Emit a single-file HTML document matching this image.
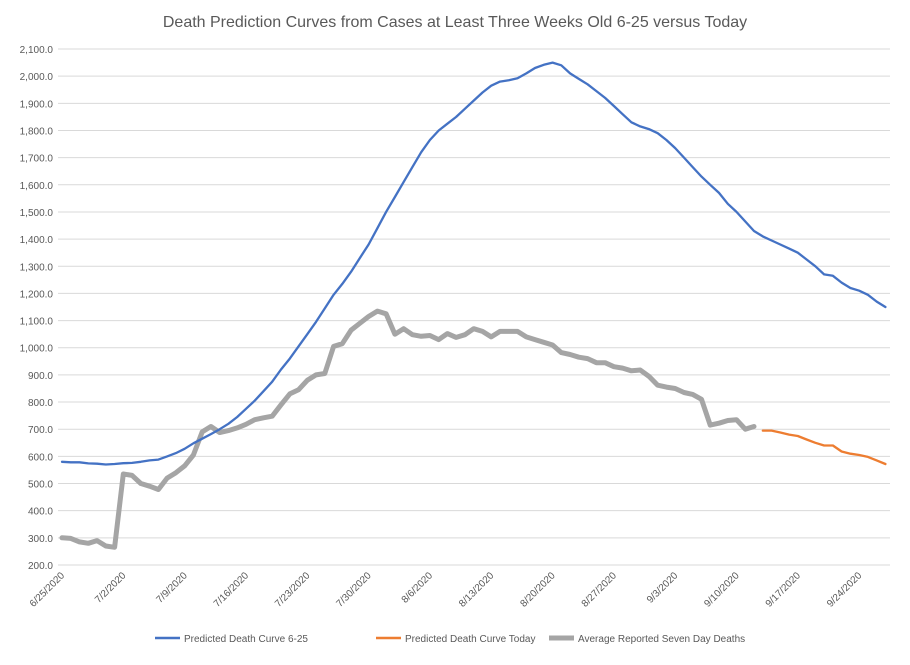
<!DOCTYPE html>
<html><head><meta charset="utf-8"><style>
body{margin:0;background:#fff;font-family:"Liberation Sans",sans-serif}
svg text{font-family:"Liberation Sans",sans-serif;fill:#595959}
</style></head><body>
<svg id="chart" width="910" height="660">
<text x="455" y="27" text-anchor="middle" font-size="16">Death Prediction Curves from Cases at Least Three Weeks Old 6-25 versus Today</text>
<g id="grid"></g>
<g id="yaxis"></g>
<g id="xaxis"></g>
<g id="series"></g>
<g font-size="10">
<g><line x1="155" y1="638" x2="180" y2="638" stroke="#4472C4" stroke-width="2.5"/><text x="184" y="642" font-size="10">Predicted Death Curve 6-25</text></g>
<g><line x1="376" y1="638" x2="401" y2="638" stroke="#ED7D31" stroke-width="2.5"/><text x="405" y="642" font-size="10">Predicted Death Curve Today</text></g>
<g><line x1="549" y1="638" x2="574" y2="638" stroke="#A5A5A5" stroke-width="5"/><text x="578" y="642" font-size="10">Average Reported Seven Day Deaths</text></g>
</g>
</svg>
<script>
const yTicks=[200,300,400,500,600,700,800,900,1000,1100,1200,1300,1400,1500,1600,1700,1800,1900,2000,2100];
const xLabels=["6/25/2020","7/2/2020","7/9/2020","7/16/2020","7/23/2020","7/30/2020","8/6/2020","8/13/2020","8/20/2020","8/27/2020","9/3/2020","9/10/2020","9/17/2020","9/24/2020"];
const blue=[580,578,578,574,573,570,572,575,576,580,585,588,600,612,628,648,665,682,700,720,745,775,805,840,875,920,960,1005,1050,1095,1145,1195,1235,1280,1330,1380,1440,1500,1555,1610,1665,1720,1765,1800,1825,1850,1880,1910,1940,1965,1980,1985,1992,2010,2030,2042,2050,2040,2010,1990,1970,1945,1920,1890,1860,1830,1815,1805,1790,1765,1735,1700,1665,1630,1600,1570,1530,1500,1465,1430,1410,1395,1380,1365,1350,1325,1300,1270,1265,1240,1220,1210,1195,1170,1150];
const gray=[300,298,285,280,290,270,265,535,530,500,490,478,520,540,565,605,690,710,688,695,705,718,735,742,748,790,830,845,880,900,905,1005,1015,1065,1090,1115,1135,1125,1050,1070,1048,1042,1045,1030,1052,1038,1048,1070,1060,1040,1060,1060,1060,1040,1030,1020,1010,982,975,965,960,945,945,930,925,915,918,895,862,855,850,835,828,810,715,722,732,735,700,710];
const orangeStart=80;
const orange=[695,695,688,680,675,662,650,640,640,618,610,605,598,585,572];
const NS='http://www.w3.org/2000/svg';
const X=i=>62+i*8.76, Y=v=>49+(2100-v)*0.27158;
function mk(t,a,p){const e=document.createElementNS(NS,t);for(const k in a)e.setAttribute(k,a[k]);p.appendChild(e);return e;}
const grid=document.getElementById('grid'),ya=document.getElementById('yaxis'),xa=document.getElementById('xaxis'),se=document.getElementById('series');
yTicks.forEach(v=>{
 const l=mk('line',{x1:58,x2:890,y1:Y(v),y2:Y(v),stroke:'#d9d9d9','stroke-width':1},grid);
 
 
 const t=mk('text',{x:53,y:Y(v)+4,'text-anchor':'end','font-size':10},ya);
 t.textContent=v.toLocaleString('en-US',{minimumFractionDigits:1,maximumFractionDigits:1});
 
 
});
xLabels.forEach((s,k)=>{
 const x=X(k*7)+3,y=576;
 const t=mk('text',{x:x,y:y,'text-anchor':'end','font-size':10,transform:`rotate(-45 ${x} ${y})`},xa);
 t.textContent=s;
 
 
});
function line(arr,off,color,w,name){
 const d=arr.map((v,i)=>(i?'L':'M')+X(i+off).toFixed(1)+' '+Y(v).toFixed(1)).join(' ');
 const p=mk('path',{d:d,fill:'none',stroke:color,'stroke-width':w,'stroke-linejoin':'round','stroke-linecap':'round'},se);
 
 
}
line(gray,0,'#A5A5A5',5,'average-reported-line');
line(blue,0,'#4472C4',2.3,'predicted-6-25-line');
line(orange,orangeStart,'#ED7D31',2.3,'predicted-today-line');
</script>
</body></html>
